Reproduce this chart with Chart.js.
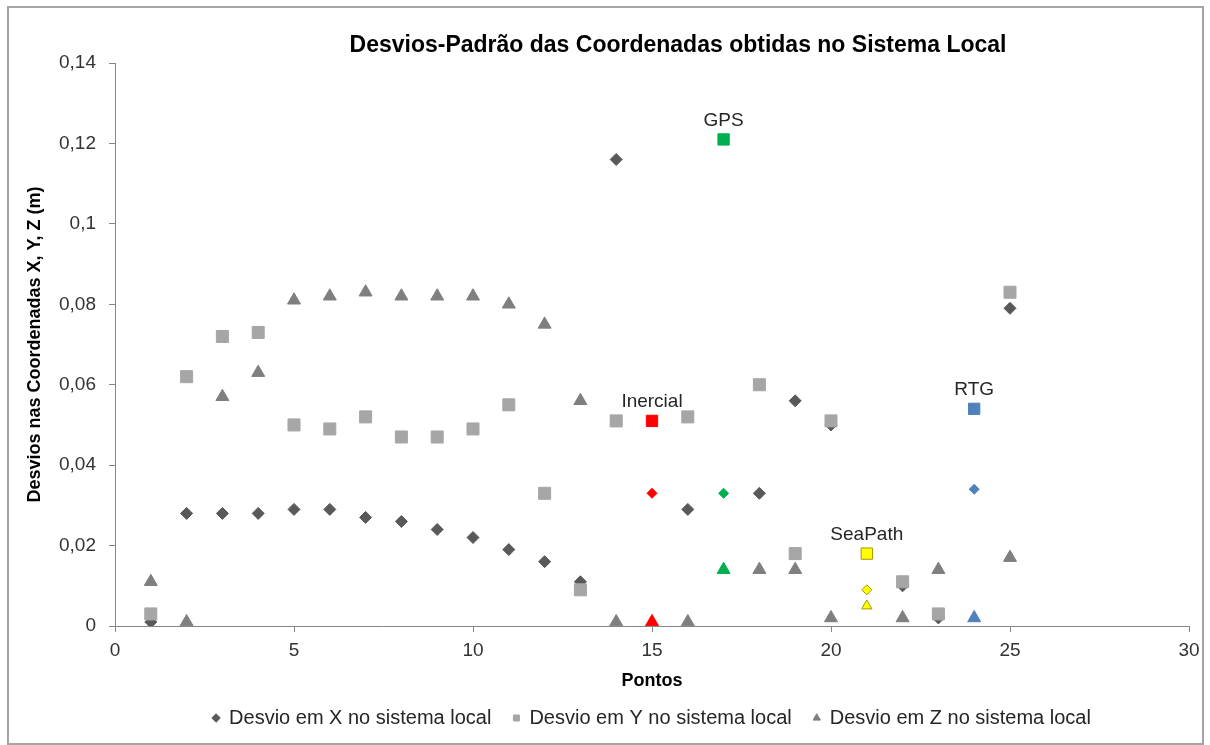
<!DOCTYPE html>
<html>
<head>
<meta charset="utf-8">
<title>Desvios-Padrão</title>
<script src="https://cdn.jsdelivr.net/npm/chart.js@4/dist/chart.umd.min.js"></script>
<style>
  html, body { margin: 0; padding: 0; background: #fff; }
  #moldura { position: absolute; left: 7px; top: 6px; width: 1193px; height: 735px; border: 2px solid #a5a5a5; }
  #wrap { position: absolute; left: 0; top: 0; width: 1210px; height: 745px; }
</style>
</head>
<body>
<div id="moldura"></div>
<div id="wrap"><canvas id="grafico" width="1210" height="745"></canvas></div>
<script>
// dados
var pontos = [1, 2, 3, 4, 5, 6, 7, 8, 9, 10, 11, 12, 13, 14, 15, 16, 17, 18, 19, 20, 21, 22, 23, 24, 25];
var desvioX = [0.001, 0.028, 0.028, 0.028, 0.029, 0.029, 0.027, 0.026, 0.024, 0.022, 0.019, 0.016, 0.011, 0.116, 0.033, 0.029, 0.033, 0.033, 0.056, 0.050, 0.009, 0.010, 0.002, 0.034, 0.079];
var desvioY = [0.003, 0.062, 0.072, 0.073, 0.050, 0.049, 0.052, 0.047, 0.047, 0.049, 0.055, 0.033, 0.009, 0.051, 0.051, 0.052, 0.121, 0.060, 0.018, 0.051, 0.018, 0.011, 0.003, 0.054, 0.083];
var desvioZ = [0.011, 0.001, 0.057, 0.063, 0.081, 0.082, 0.083, 0.082, 0.082, 0.082, 0.080, 0.075, 0.056, 0.001, 0.001, 0.001, 0.014, 0.014, 0.014, 0.002, 0.005, 0.002, 0.014, 0.002, 0.017];

// pontos medidos por cada sistema
var sistemas = ['Inercial', 'GPS', 'SeaPath', 'RTG'];
var sistemaPontos = [15, 17, 21, 24];

var series = ['Desvio em X no sistema local', 'Desvio em Y no sistema local', 'Desvio em Z no sistema local'];
var titulo = 'Desvios-Padrão das Coordenadas obtidas no Sistema Local';

var sistemaCores = ['#ff0000', '#00b050', '#ffff00', '#4f81bd'];
var sistemaBordas = ['#ff0000', '#00b050', '#a89600', '#4f81bd'];

Chart.defaults.font.family = "'Liberation Sans', Arial, sans-serif";
Chart.defaults.color = '#333333';

function sistemaDe(ctx) {
    return sistemaPontos.indexOf(pontos[ctx.dataIndex]);
}
function cor(base) {
    return function (ctx) { var k = sistemaDe(ctx); return k >= 0 ? sistemaCores[k] : base; };
}
function borda(base) {
    return function (ctx) { var k = sistemaDe(ctx); return k >= 0 ? sistemaBordas[k] : base; };
}
function raio(normal, colorido) {
    return function (ctx) { return sistemaDe(ctx) >= 0 ? colorido : normal; };
}
function pares(valores) {
    return pontos.map(function (p, i) { return { x: p, y: valores[i] }; });
}

var rotulosPlugin = {
    id: 'rotulos',
    afterDatasetsDraw: function (chart) {
        var ctx = chart.ctx;
        var metaY = chart.getDatasetMeta(1);
        ctx.save();
        ctx.fillStyle = '#262626';
        ctx.font = "19px 'Liberation Sans', Arial, sans-serif";
        ctx.textAlign = 'center';
        ctx.textBaseline = 'middle';
        sistemas.forEach(function (nome, k) {
            var el = metaY.data[pontos.indexOf(sistemaPontos[k])];
            ctx.fillText(nome, el.x, el.y - 19);
        });
        ctx.fillStyle = '#000000';
        ctx.font = "bold 23px 'Liberation Sans', Arial, sans-serif";
        var ca = chart.chartArea;
        ctx.fillText(titulo, (ca.left + ca.right) / 2 + 26, 46);
        ctx.restore();
    }
};

var eixo = '#868686';

var grafico = new Chart(document.getElementById('grafico'), {
    type: 'scatter',
    data: {
        datasets: [{
            label: series[0],
            data: pares(desvioX),
            pointStyle: 'rectRot',
            pointRadius: raio(6, 5),
            pointBackgroundColor: cor('#595959'),
            pointBorderColor: borda('#595959'),
            pointBorderWidth: 1,
            order: 1
        }, {
            label: series[1],
            data: pares(desvioY),
            pointStyle: 'rect',
            pointRadius: raio(8.5, 8),
            pointBackgroundColor: cor('#a6a6a6'),
            pointBorderColor: borda('#a6a6a6'),
            pointBorderWidth: 1,
            order: 0
        }, {
            label: series[2],
            data: pares(desvioZ),
            pointStyle: 'triangle',
            pointRadius: function (ctx) { var k = sistemaDe(ctx); return k === 2 ? 6 : 7.5; },
            pointBackgroundColor: cor('#7f7f7f'),
            pointBorderColor: borda('#7f7f7f'),
            pointBorderWidth: 1,
            order: 2
        }]
    },
    options: {
        responsive: false,
        animation: false,
        layout: { padding: { left: 0, right: 21, top: 63, bottom: 7 } },
        scales: {
            x: {
                type: 'linear',
                min: 0,
                max: 30,
                afterFit: function (s) { s.height = 60; },
                ticks: { stepSize: 5, padding: 7, color: '#333333', font: { size: 19 } },
                grid: { drawOnChartArea: false, drawTicks: true, tickLength: 6, color: eixo },
                border: { display: true, color: eixo, width: 1 },
                title: {
                    display: true,
                    text: 'Pontos',
                    color: '#000000',
                    font: { size: 18, weight: 'bold' },
                    padding: { top: 0, bottom: -6 }
                }
            },
            y: {
                min: 0,
                max: 0.14,
                afterFit: function (s) { s.width = 115; },
                ticks: {
                    stepSize: 0.02,
                    padding: 13,
                    color: '#333333',
                    font: { size: 19 },
                    callback: function (v) { return String(Math.round(v * 100) / 100).replace('.', ','); }
                },
                grid: { drawOnChartArea: false, drawTicks: true, tickLength: 6, color: eixo },
                border: { display: true, color: eixo, width: 1 },
                title: {
                    display: true,
                    text: 'Desvios nas Coordenadas X, Y, Z (m)',
                    color: '#000000',
                    font: { size: 18, weight: 'bold' },
                    padding: { top: 24, bottom: 0 }
                }
            }
        },
        plugins: {
            title: { display: false },
            tooltip: { enabled: false },
            legend: {
                position: 'bottom',
                fullSize: false,
                labels: {
                    usePointStyle: true,
                    boxWidth: 6,
                    boxHeight: 6,
                    padding: 22,
                    color: '#262626',
                    font: { size: 20 },
                    sort: function (a, b) { return a.datasetIndex - b.datasetIndex; }
                }
            }
        }
    },
    plugins: [rotulosPlugin]
});
</script>
</body>
</html>
